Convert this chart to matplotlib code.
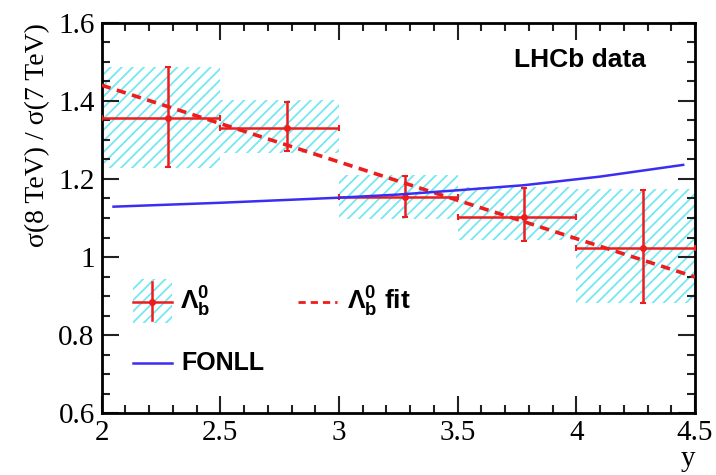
import matplotlib
matplotlib.use("Agg")
import matplotlib.pyplot as plt
from matplotlib.patches import Rectangle
from matplotlib.lines import Line2D
from matplotlib.ticker import MultipleLocator, FuncFormatter

# Measured Lambda_b^0 cross-section ratio in rapidity bins
bin_lo = [2.0, 2.5, 3.0, 3.5, 4.0]
bin_hi = [2.5, 3.0, 3.5, 4.0, 4.5]
y_mean = [2.28, 2.78, 3.28, 3.78, 4.28]
ratio = [1.355, 1.331, 1.155, 1.103, 1.024]
err_up = [0.132, 0.067, 0.053, 0.073, 0.148]
err_dn = [0.124, 0.059, 0.052, 0.062, 0.141]
band_hi = [1.487, 1.402, 1.210, 1.180, 1.173]
band_lo = [1.228, 1.267, 1.097, 1.044, 0.882]

# Linear fit to the ratio
fit_y = [2.0, 4.5]
fit_ratio = [1.440, 0.949]

# FONLL prediction
fonll_y = [2.05, 2.5, 3.0, 3.25, 3.5, 3.78, 4.1, 4.45]
fonll_ratio = [1.129, 1.139, 1.152, 1.160, 1.171, 1.184, 1.206, 1.236]

x_ticks = [2, 2.5, 3, 3.5, 4, 4.5]
y_ticks = [0.6, 0.8, 1.0, 1.2, 1.4, 1.6]

RED = "#ee1c1c"
BLUE = "#3b2ef2"
CYAN = "#74e8f2"

plt.rcParams["hatch.linewidth"] = 1.3
plt.rcParams["mathtext.fontset"] = "custom"
plt.rcParams["mathtext.rm"] = "Liberation Sans:bold"
plt.rcParams["mathtext.it"] = "Liberation Sans:bold"
plt.rcParams["mathtext.bf"] = "Liberation Sans:bold"

fig = plt.figure(figsize=(7.16, 4.75), dpi=100)
ax = fig.add_axes([0.142, 0.1299, 0.8287, 0.8223])

# uncertainty bands
for lo, hi, b0, b1 in zip(bin_lo, bin_hi, band_lo, band_hi):
    ax.add_patch(Rectangle((lo, b0), hi - lo, b1 - b0, facecolor="none",
                           edgecolor=CYAN, hatch="///", linewidth=0, zorder=1))

# data points with bin widths as horizontal bars
xerr = [[m - lo for m, lo in zip(y_mean, bin_lo)],
        [hi - m for m, hi in zip(y_mean, bin_hi)]]
ax.errorbar(y_mean, ratio, xerr=xerr, yerr=[err_dn, err_up], fmt="o",
            color=RED, ms=4, elinewidth=1.8, capsize=2.5, capthick=1.5,
            zorder=3)

ax.plot(fit_y, fit_ratio, color=RED, lw=2.6, ls=(0, (2.6, 1.8)), zorder=4)
ax.plot(fonll_y, fonll_ratio, color=BLUE, lw=1.8, zorder=5)

ax.set_xlim(2, 4.5)
ax.set_ylim(0.6, 1.6)
ax.set_xticks(x_ticks)
ax.set_yticks(y_ticks)
ax.xaxis.set_minor_locator(MultipleLocator(0.1))
ax.yaxis.set_minor_locator(MultipleLocator(0.05))
fmt = FuncFormatter(lambda v, p: "%g" % round(v, 3))
ax.xaxis.set_major_formatter(fmt)
ax.yaxis.set_major_formatter(fmt)
ax.tick_params(which="both", direction="in", top=True, right=True,
               width=1.5, color="#222222")
ax.tick_params(which="major", length=12, labelsize=21, pad=5)
ax.tick_params(which="minor", length=6)
for lab in ax.get_xticklabels() + ax.get_yticklabels():
    lab.set_family("Liberation Serif")
for sp in ax.spines.values():
    sp.set_linewidth(2)

ax.set_ylabel("σ(8 TeV) / σ(7 TeV)", family="Liberation Serif", fontsize=20,
              loc="top", labelpad=6)
ax.set_xlabel("y", family="Liberation Serif", fontsize=21, loc="right",
              labelpad=0)

ax.text(0.806, 0.905, "LHCb data", transform=ax.transAxes, ha="center",
        va="center", family="Liberation Sans", weight="bold", fontsize=19)

# legend
tr = ax.transAxes
ax.add_patch(Rectangle((0.0528, 0.231), 0.0656, 0.113, transform=tr,
                       facecolor="none", edgecolor=CYAN, hatch="///",
                       linewidth=0, zorder=6))
ax.add_line(Line2D([0.0528, 0.1184], [0.2857, 0.2857], transform=tr,
                   color=RED, lw=1.8, zorder=7))
ax.add_line(Line2D([0.0856, 0.0856], [0.24, 0.335], transform=tr,
                   color=RED, lw=1.8, zorder=7))
ax.add_line(Line2D([0.0856], [0.2857], transform=tr, marker="o", ms=4,
                   color=RED, zorder=7))
ax.text(0.132, 0.2857, r"$\Lambda_b^0$", transform=tr, ha="left",
        va="center", family="Liberation Sans", weight="bold", fontsize=19)

ax.add_line(Line2D([0.331, 0.397], [0.2857, 0.2857], transform=tr,
                   color=RED, lw=2, ls=(0, (2.6, 1.8)), zorder=7))
ax.text(0.413, 0.2857, r"$\Lambda_b^0$ fit", transform=tr, ha="left",
        va="center", family="Liberation Sans", weight="bold", fontsize=19)

ax.add_line(Line2D([0.0528, 0.1184], [0.1288, 0.1288], transform=tr,
                   color=BLUE, lw=1.8, zorder=7))
ax.text(0.135, 0.1288, "FONLL", transform=tr, ha="left", va="center",
        family="Liberation Sans", weight="bold", fontsize=18)

fig.savefig("out.png", dpi=100)
